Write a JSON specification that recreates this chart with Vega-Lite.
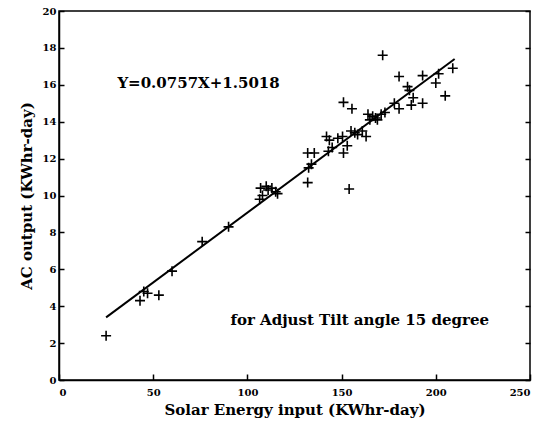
{
  "$schema": "https://vega.github.io/schema/vega-lite/v6.json",
  "width": 471,
  "height": 369,
  "autosize": {"type": "none"},
  "padding": {"left": 59, "top": 11, "right": 12, "bottom": 51},
  "background": "white",
  "config": {
    "view": {"stroke": "black", "strokeWidth": 1.5},
    "font": "DejaVu Serif",
    "axis": {
      "grid": false,
      "domainColor": "black",
      "domainWidth": 1.5,
      "tickColor": "black",
      "tickWidth": 1.5,
      "labelColor": "black",
      "labelFont": "DejaVu Serif",
      "labelFontWeight": "bold",
      "labelFontSize": 10,
      "titleFont": "DejaVu Serif",
      "titleFontWeight": "bold",
      "titleFontSize": 15,
      "titleColor": "black"
    }
  },
  "resolve": {"axis": {"y": "independent"}},
  "datasets": {
    "pts": [
      {"x": 25, "y": 2.4}, {"x": 43, "y": 4.3}, {"x": 45, "y": 4.8}, {"x": 47, "y": 4.7}, {"x": 53, "y": 4.6},
      {"x": 60, "y": 5.9}, {"x": 76, "y": 7.5}, {"x": 90, "y": 8.3}, {"x": 106.5, "y": 9.8}, {"x": 107, "y": 10.4},
      {"x": 108, "y": 10.0}, {"x": 110, "y": 10.5}, {"x": 111, "y": 10.3}, {"x": 113, "y": 10.4}, {"x": 115, "y": 10.2},
      {"x": 116, "y": 10.1}, {"x": 132, "y": 10.7}, {"x": 132.5, "y": 11.5}, {"x": 134, "y": 11.7}, {"x": 132, "y": 12.3},
      {"x": 135.5, "y": 12.3}, {"x": 142, "y": 13.2}, {"x": 143, "y": 12.4}, {"x": 143.5, "y": 13.0}, {"x": 145, "y": 12.6},
      {"x": 148, "y": 13.1}, {"x": 150.5, "y": 13.2}, {"x": 151, "y": 12.3}, {"x": 151, "y": 15.05}, {"x": 153, "y": 12.7},
      {"x": 154, "y": 10.35}, {"x": 155, "y": 13.5}, {"x": 155.5, "y": 14.7}, {"x": 157, "y": 13.4}, {"x": 158.5, "y": 13.3},
      {"x": 161, "y": 13.5}, {"x": 163, "y": 13.2}, {"x": 164, "y": 14.4}, {"x": 165, "y": 14.1}, {"x": 166.5, "y": 14.3},
      {"x": 168, "y": 14.2}, {"x": 169, "y": 14.1}, {"x": 171, "y": 14.4}, {"x": 171.8, "y": 17.6}, {"x": 173, "y": 14.5},
      {"x": 178, "y": 15.0}, {"x": 180.5, "y": 14.7}, {"x": 180.5, "y": 16.45}, {"x": 185, "y": 15.9}, {"x": 186, "y": 15.7},
      {"x": 187, "y": 14.9}, {"x": 188, "y": 15.3}, {"x": 193, "y": 15.0}, {"x": 193, "y": 16.5}, {"x": 200, "y": 16.1},
      {"x": 201.5, "y": 16.6}, {"x": 205, "y": 15.4}, {"x": 209, "y": 16.9}
    ],
    "fit": [{"x": 25, "y": 3.394}, {"x": 210, "y": 17.399}],
    "notes": [
      {"x": 31, "y": 16.1, "label": "Y=0.0757X+1.5018"},
      {"x": 91, "y": 3.25, "label": "for Adjust Tilt angle 15 degree"}
    ]
  },
  "layer": [
    {
      "data": {"name": "pts"},
      "mark": {"type": "point", "shape": "M-1,0H1M0,-1V1", "filled": false, "stroke": "black", "strokeWidth": 1.6, "size": 100, "opacity": 1},
      "encoding": {
        "x": {"field": "x", "type": "quantitative", "scale": {"domain": [0, 250], "nice": false},
          "axis": {"title": "Solar Energy input (KWhr-day)", "values": [0, 50, 100, 150, 200, 250], "tickSize": -6, "labelPadding": 13, "titlePadding": 5}},
        "y": {"field": "y", "type": "quantitative", "scale": {"domain": [0, 20], "nice": false},
          "axis": {"title": "AC output (KWhr-day)", "values": [0, 2, 4, 6, 8, 10, 12, 14, 16, 18, 20], "tickSize": -5, "labelPadding": 8, "titlePadding": 8}}
      }
    },
    {
      "data": {"name": "fit"},
      "mark": {"type": "line", "color": "black", "strokeWidth": 2},
      "encoding": {
        "x": {"field": "x", "type": "quantitative"},
        "y": {"field": "y", "type": "quantitative", "axis": {"orient": "right", "labels": false, "labelOpacity": 0, "title": null, "values": [0, 2, 4, 6, 8, 10, 12, 14, 16, 18, 20], "tickSize": -5, "domain": false}}
      }
    },
    {
      "data": {"name": "notes"},
      "mark": {"type": "text", "align": "left", "baseline": "middle", "font": "DejaVu Serif", "fontWeight": "bold", "fontSize": 15, "color": "black"},
      "encoding": {
        "x": {"field": "x", "type": "quantitative"},
        "y": {"field": "y", "type": "quantitative", "axis": null},
        "text": {"field": "label"}
      }
    }
  ]
}
